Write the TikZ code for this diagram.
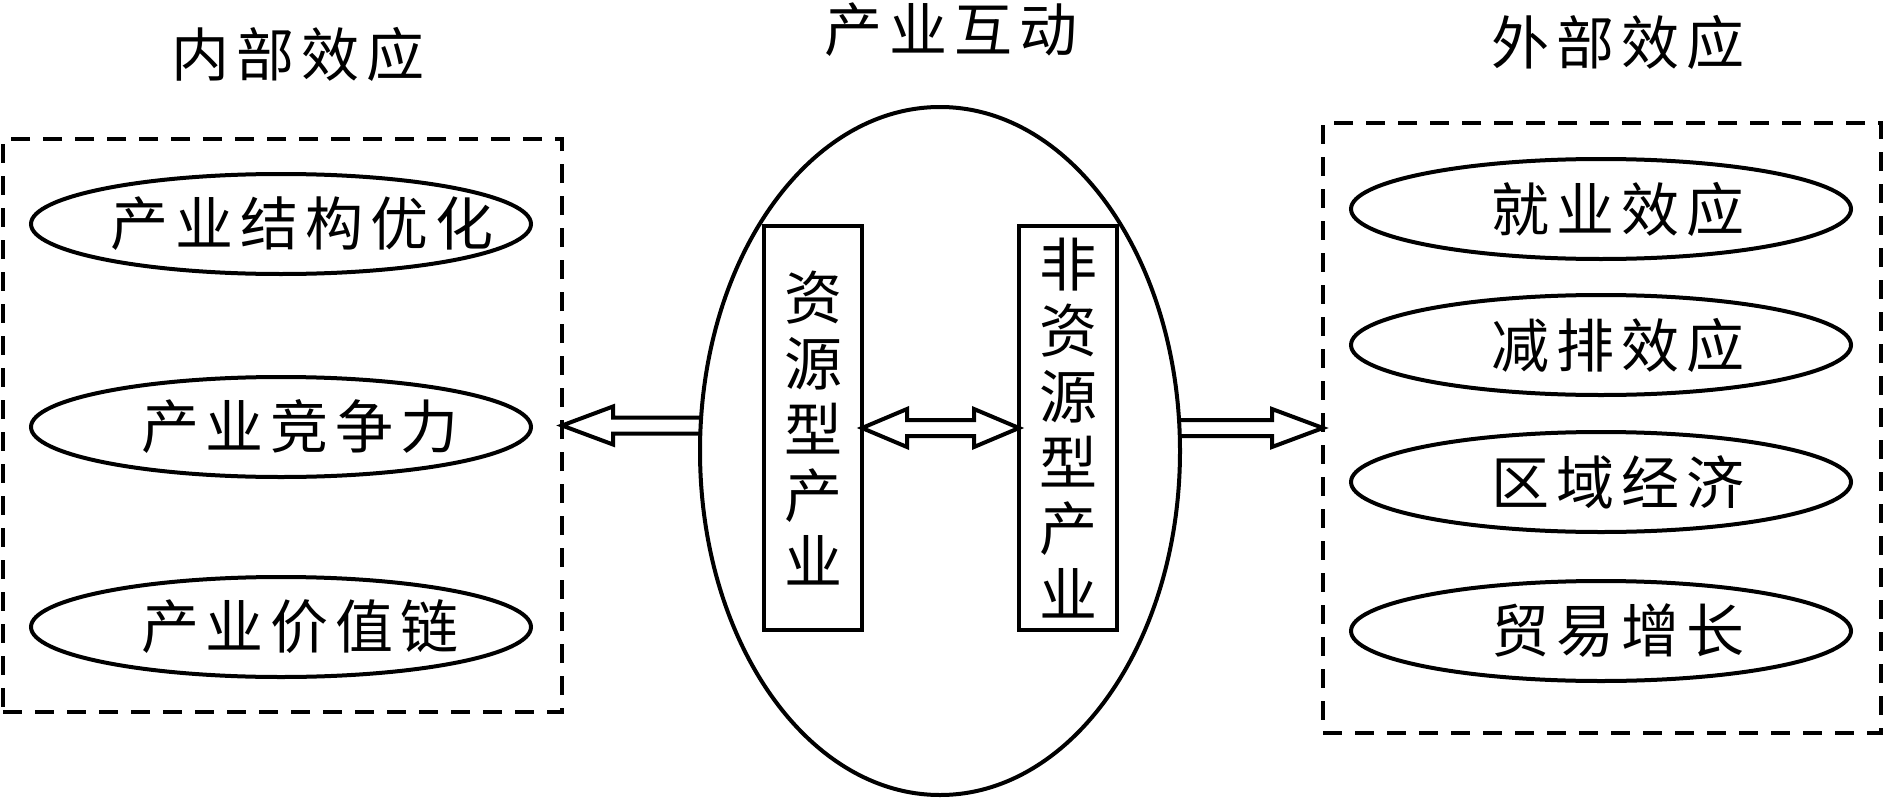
\documentclass[tikz,border=0pt]{standalone}
\usepackage{fontspec}
\setmainfont{Noto Sans CJK SC}
\usetikzlibrary{shapes.geometric,calc}
\def\spacedA#1#2{#1\ifx\relax#2\else\kern7pt\expandafter\spacedA\expandafter#2\fi}
\newcommand\spaced[1]{\spacedA#1\relax}
\begin{document}
\begin{tikzpicture}[x=1pt,y=-1pt,
  every node/.style={inner sep=0pt, outer sep=0pt},
  txt/.style={font=\fontsize{58}{66}\selectfont},
  grp/.style={draw, rectangle, dash pattern=on 19pt off 13pt, line width=4pt},
  oval/.style={draw, ellipse, line width=4pt, minimum width=500pt, minimum height=100pt},
  tall/.style={draw, rectangle, line width=4pt, minimum width=98pt, minimum height=404pt, align=center, txt},
  blk/.style={draw, line width=4pt, line join=miter},
  harrow/.style={to path={
    let \p1=(\tikztostart), \p2=(\tikztotarget), \p3=($(\tikztotarget)!#1!(\tikztostart)$) in
    (\x1,\y1+8pt) -- (\x3,\y1+8pt) -- (\x3,\y1+19pt) -- (\x2,\y1) -- (\x3,\y1-19pt) -- (\x3,\y1-8pt) -- (\x1,\y1-8pt)}},
  harrow/.default=51pt,
  darrow/.style={to path={
    let \p1=(\tikztostart), \p2=(\tikztotarget), \p3=($(\tikztostart)!#1!(\tikztotarget)$), \p4=($(\tikztotarget)!#1!(\tikztostart)$) in
    (\x1,\y1) -- (\x3,\y1+19pt) -- (\x3,\y1+8pt) -- (\x4,\y1+8pt) -- (\x4,\y1+19pt) -- (\x2,\y1) -- (\x4,\y1-19pt) -- (\x4,\y1-8pt) -- (\x3,\y1-8pt) -- (\x3,\y1-19pt) -- cycle}},
  darrow/.default=45pt
]
\useasboundingbox (0,0) rectangle (1885,800);

% titles
\node[txt] (tl) at (298,54) {\spaced{内部效应}};
\node[txt] (tm) at (951,30) {\spaced{产业互动}};
\node[txt] (tr) at (1618,42) {\spaced{外部效应}};

% left group
\node[grp, minimum width=559pt, minimum height=573pt] (lbox) at (282.5,425.5) {};
\node[oval] (l1) at (281,224) {};
\node[oval] (l2) at (281,427) {};
\node[oval] (l3) at (281,627) {};
\node[txt] (l1t) at ([xshift=21pt]l1.center) {\spaced{产业结构优化}};
\node[txt] (l2t) at ([xshift=19pt]l2.center) {\spaced{产业竞争力}};
\node[txt] (l3t) at ([xshift=19pt]l3.center) {\spaced{产业价值链}};

% right group
\node[grp, minimum width=558pt, minimum height=610pt] (rbox) at (1602,428) {};
\node[oval] (r1) at (1601,209) {};
\node[oval] (r2) at (1601,345) {};
\node[oval] (r3) at (1601,482) {};
\node[oval] (r4) at (1601,631) {};
\node[txt] (r1t) at ([xshift=17pt]r1.center) {\spaced{就业效应}};
\node[txt] (r2t) at ([xshift=17pt]r2.center) {\spaced{减排效应}};
\node[txt] (r3t) at ([xshift=17pt]r3.center) {\spaced{区域经济}};
\node[txt] (r4t) at ([xshift=17pt]r4.center) {\spaced{贸易增长}};

% centre
\node[draw, ellipse, line width=4pt, minimum width=480pt, minimum height=688pt] (big) at (940,451) {};
\node[tall] (b1) at (813,428) {资\\源\\型\\产\\业};
\node[tall] (b2) at (1068,428) {非\\资\\源\\型\\产\\业};

% arrows
\draw[blk] (big.west |- lbox.east) to[harrow] (lbox.east);
\draw[blk] (big.east |- rbox.west) to[harrow] (rbox.west);
\draw[blk] (b1.east) to[darrow] (b2.west);
\end{tikzpicture}
\end{document}
